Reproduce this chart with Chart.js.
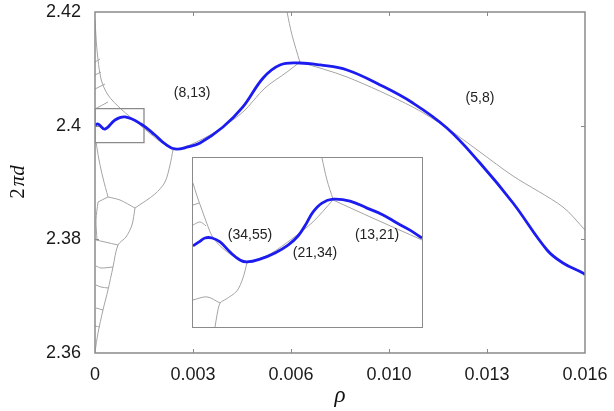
<!DOCTYPE html>
<html>
<head>
<meta charset="utf-8">
<script src="https://cdn.jsdelivr.net/npm/chart.js@4.4.0/dist/chart.umd.min.js"></script>
<style>
  html, body { margin: 0; padding: 0; background: #fff; }
  #wrap { position: relative; width: 614px; height: 411px; }
  canvas { display: block; }
  #inset { position: absolute; left: 192px; top: 157px; width: 229px; height: 169px;
           border: 1px solid #8a8a8a; background: #fff; }
</style>
</head>
<body>
<div id="wrap">
  <canvas id="mainChart" width="614" height="411"></canvas>
  <div id="inset"><canvas id="insetChart" width="229" height="169"></canvas></div>
</div>
<script>
// axis ticks
const xTickValues = [0, 0.0032, 0.0064, 0.0096, 0.0128, 0.016];
const xTickLabels = ['0', '0.003', '0.006', '0.010', '0.013', '0.016'];
const yTickValues = [2.36, 2.38, 2.40, 2.42];
const yTickLabels = ['2.36', '2.38', '2.4', '2.42'];

// blue curve, main panel
const rho = [0, 0.000098, 0.000327, 0.000653, 0.00098, 0.0015, 0.00196, 0.00229, 0.00261,
  0.00304, 0.00343, 0.00418, 0.00483, 0.00549, 0.00604, 0.00669, 0.00735, 0.00823,
  0.00931, 0.01038, 0.01149, 0.01257, 0.01365, 0.01476, 0.01528, 0.01593, 0.016];
const twoPiD = [2.40012, 2.40029, 2.39941, 2.40100, 2.40153, 2.40029, 2.39836, 2.39678, 2.39590,
  2.39625, 2.39695, 2.39977, 2.40329, 2.40839, 2.41068, 2.41103, 2.41068, 2.40980,
  2.40716, 2.40399, 2.39959, 2.39343, 2.38639, 2.37812, 2.37584, 2.37408, 2.37380];

// blue curve, inset
const insetRho = [0, 0.000042, 0.000084, 0.000133, 0.000189, 0.000259, 0.000328, 0.000377,
  0.000468, 0.000573, 0.000664, 0.000734, 0.000790, 0.000838, 0.000901, 0.000978, 0.001097,
  0.001216, 0.001328, 0.001425, 0.001516, 0.0016];
const insetTwoPiD = [2.39988, 2.40002, 2.40016, 2.40016, 2.40002, 2.39966, 2.39938, 2.39931,
  2.39941, 2.39963, 2.39991, 2.40023, 2.40066, 2.40108, 2.40140, 2.40154, 2.40147,
  2.40122, 2.40098, 2.40069, 2.40044, 2.40016];

// gray cell boundaries, main panel
const cellEdges = [
  [[0.00627, 2.4200], [0.00643, 2.4160], [0.00669, 2.4112]],
  [[0.00669, 2.4112], [0.00823, 2.40856], [0.01038, 2.40328], [0.01149, 2.39959],
   [0.01257, 2.39537], [0.01365, 2.39114], [0.01528, 2.38569], [0.016, 2.38164]],
  [[0.00669, 2.4112], [0.00627, 2.40944], [0.00555, 2.40663], [0.00483, 2.40240],
   [0.00392, 2.39889], [0.00310, 2.39660], [0.00255, 2.39572]],
  [[0, 2.41859], [0.0000653, 2.41331], [0.000196, 2.40821], [0.000424, 2.40540],
   [0.000849, 2.40293], [0.001469, 2.40012], [0.002057, 2.39748], [0.002547, 2.39572]],
  [[0.002547, 2.39572], [0.002449, 2.39308], [0.002286, 2.39009], [0.001959, 2.38798], [0.001306, 2.38551]],
  [[0.0000327, 2.39713], [0.000131, 2.39396], [0.000261, 2.39079], [0.000424, 2.38745]],
  [[0.000424, 2.38745], [0.000816, 2.38692], [0.001306, 2.38551]],
  [[0.001306, 2.38551], [0.001208, 2.38252], [0.001012, 2.38041], [0.000751, 2.37900],
   [0.000588, 2.37513], [0.000424, 2.37109], [0.000261, 2.36757], [0.000098, 2.36352], [0, 2.36018]],
  [[0.000424, 2.38745], [0.000098, 2.38657]],
  [[0.000098, 2.38657], [0.0000327, 2.38340], [0.0000653, 2.37988]],
  [[0.000751, 2.37900], [0.000327, 2.37953], [0.0000327, 2.37988]],
  [[0.000588, 2.37513], [0.000196, 2.37496], [0.0000327, 2.37531]],
  [[0.000424, 2.37144], [0.000196, 2.37161], [0.0000327, 2.37196]],
  [[0.000261, 2.36757], [0.0000327, 2.36792]],
  [[0.000163, 2.36457], [0, 2.36475]],
  [[0, 2.41120], [0.000163, 2.41173]],
  [[0, 2.40891], [0.000196, 2.40944]],
  [[0, 2.40645], [0.000327, 2.40733]],
  [[0, 2.40293], [0.000424, 2.40416]]
];

// gray cell boundaries, inset
const insetEdges = [
  [[0.000901, 2.4030], [0.000936, 2.40222], [0.000978, 2.40154]],
  [[0.000978, 2.40151], [0.001272, 2.40083], [0.0016, 2.40009]],
  [[0.000978, 2.40151], [0.000838, 2.40073], [0.000699, 2.40016], [0.000538, 2.39959], [0.000377, 2.39927]],
  [[0, 2.40211], [0.000028, 2.40165], [0.000063, 2.40115], [0.000098, 2.40066],
   [0.000133, 2.40023], [0.000189, 2.39988], [0.000279, 2.39952], [0.000377, 2.39927]],
  [[0.000377, 2.39927], [0.000349, 2.39874], [0.000307, 2.39828], [0.000231, 2.39799],
   [0.000189, 2.39785], [0.000168, 2.39743], [0.000154, 2.3970]],
  [[0.000189, 2.39785], [0.000098, 2.39807], [0, 2.39796]],
  [[0, 2.40133], [0.000042, 2.40140]],
  [[0, 2.40062], [0.000049, 2.40073], [0.000091, 2.40059]]
];

// zoom box
const zoomBoxRho = [0, 0.0016];
const zoomBoxD = [2.397, 2.403];

// region labels
const regionNames = ['(8,13)', '(5,8)'];
const regionAt = [[0.00317, 2.40575], [0.01257, 2.40487]];
const insetNames = ['(34,55)', '(21,34)', '(13,21)'];
const insetAt = [[0.000398, 2.40027], [0.000852, 2.39963], [0.001286, 2.40027]];

const BLUE = '#1c1cf0';
const GRAY = '#a4a4a4';
const FRAME = '#8a8a8a';

function edgeSets(lines) {
  return lines.map(pts => ({
    data: pts.map(p => ({ x: p[0], y: p[1] })),
    showLine: true, borderColor: GRAY, borderWidth: 1, tension: 0.3, pointRadius: 0, order: 2
  }));
}

const labelPlugin = {
  id: 'labels',
  afterDatasetsDraw(chart, args, opts) {
    const ctx = chart.ctx, xs = chart.scales.x, ys = chart.scales.y;
    ctx.save();
    ctx.fillStyle = '#222';
    ctx.font = '14px "Liberation Sans", Arial, sans-serif';
    ctx.textAlign = 'center';
    ctx.textBaseline = 'middle';
    opts.names.forEach((n, i) => {
      ctx.fillText(n, xs.getPixelForValue(opts.at[i][0]), ys.getPixelForValue(opts.at[i][1]));
    });
    ctx.restore();
  }
};

const framePlugin = {
  id: 'frame',
  afterDraw(chart) {
    const ctx = chart.ctx, a = chart.chartArea, xs = chart.scales.x, ys = chart.scales.y;
    ctx.save();
    ctx.strokeStyle = FRAME;
    ctx.lineWidth = 1.5;
    ctx.strokeRect(a.left, a.top, a.right - a.left, a.bottom - a.top);
    ctx.lineWidth = 1;
    ctx.beginPath();
    xTickValues.slice(1, -1).forEach(v => {
      const px = Math.round(xs.getPixelForValue(v)) + 0.5;
      ctx.moveTo(px, a.bottom); ctx.lineTo(px, a.bottom - 4);
      ctx.moveTo(px, a.top); ctx.lineTo(px, a.top + 4);
    });
    yTickValues.slice(1, -1).forEach(v => {
      const py = Math.round(ys.getPixelForValue(v)) + 0.5;
      ctx.moveTo(a.left, py); ctx.lineTo(a.left + 4, py);
      ctx.moveTo(a.right, py); ctx.lineTo(a.right - 4, py);
    });
    ctx.stroke();

    // axis titles
    ctx.fillStyle = '#111';
    ctx.textBaseline = 'middle';
    ctx.textAlign = 'center';
    ctx.font = 'italic 23px "Liberation Serif", serif';
    ctx.fillText('ρ', (a.left + a.right) / 2, 396);

    ctx.translate(18, 182);
    ctx.rotate(-Math.PI / 2);
    ctx.textAlign = 'left';
    const up = '21px "Liberation Serif", serif', it = 'italic 21px "Liberation Serif", serif';
    ctx.font = up; const w1 = ctx.measureText('2').width;
    ctx.font = it; const w2 = ctx.measureText('πd').width;
    const x0 = -(w1 + w2 + 2) / 2;
    ctx.font = up; ctx.fillText('2', x0, 0);
    ctx.font = it; ctx.fillText('πd', x0 + w1 + 2, 0);
    ctx.restore();
  }
};

const tickFont = { family: '"Liberation Sans", Arial, sans-serif', size: 18 };

function noPad(s) {
  s.paddingTop = 0; s.paddingBottom = 0; s.paddingLeft = 0; s.paddingRight = 0;
}

new Chart(document.getElementById('mainChart'), {
  type: 'scatter',
  data: {
    datasets: [
      {
        data: rho.map((r, i) => ({ x: r, y: twoPiD[i] })),
        showLine: true, borderColor: BLUE, borderWidth: 2.8,
        tension: 0.4, pointRadius: 0, order: 0
      },
      {
        data: [
          { x: zoomBoxRho[0], y: zoomBoxD[0] }, { x: zoomBoxRho[1], y: zoomBoxD[0] },
          { x: zoomBoxRho[1], y: zoomBoxD[1] }, { x: zoomBoxRho[0], y: zoomBoxD[1] },
          { x: zoomBoxRho[0], y: zoomBoxD[0] }
        ],
        showLine: true, borderColor: FRAME, borderWidth: 1.3, pointRadius: 0, order: 1
      },
      ...edgeSets(cellEdges)
    ]
  },
  options: {
    responsive: false,
    animation: false,
    devicePixelRatio: 1,
    layout: { padding: { top: 12, right: 29, left: 0, bottom: 0 } },
    plugins: {
      legend: { display: false },
      tooltip: { enabled: false },
      labels: { names: regionNames, at: regionAt }
    },
    scales: {
      x: {
        type: 'linear', min: 0, max: 0.016,
        afterBuildTicks: s => { s.ticks = xTickValues.map(v => ({ value: v })); },
        afterFit: s => { s.height = 58; noPad(s); },
        ticks: { callback: (v, i) => xTickLabels[i], font: tickFont, color: '#1a1a1a',
                 padding: 11, maxRotation: 0, autoSkip: false },
        grid: { display: false, drawTicks: false },
        border: { display: false }
      },
      y: {
        type: 'linear', min: 2.36, max: 2.42,
        afterBuildTicks: s => { s.ticks = yTickValues.map(v => ({ value: v })); },
        afterFit: s => { s.width = 95; noPad(s); },
        ticks: { callback: (v, i) => yTickLabels[i], font: tickFont, color: '#1a1a1a',
                 padding: 14, autoSkip: false },
        grid: { display: false, drawTicks: false },
        border: { display: false }
      }
    }
  },
  plugins: [labelPlugin, framePlugin]
});

new Chart(document.getElementById('insetChart'), {
  type: 'scatter',
  data: {
    datasets: [
      {
        data: insetRho.map((r, i) => ({ x: r, y: insetTwoPiD[i] })),
        showLine: true, borderColor: BLUE, borderWidth: 2.8,
        tension: 0.4, pointRadius: 0, order: 0
      },
      ...edgeSets(insetEdges)
    ]
  },
  options: {
    responsive: false,
    animation: false,
    devicePixelRatio: 1,
    layout: { padding: 0 },
    plugins: {
      legend: { display: false },
      tooltip: { enabled: false },
      labels: { names: insetNames, at: insetAt }
    },
    scales: {
      x: { type: 'linear', min: zoomBoxRho[0], max: zoomBoxRho[1], display: false },
      y: { type: 'linear', min: zoomBoxD[0], max: zoomBoxD[1], display: false }
    }
  },
  plugins: [labelPlugin]
});
</script>
</body>
</html>
